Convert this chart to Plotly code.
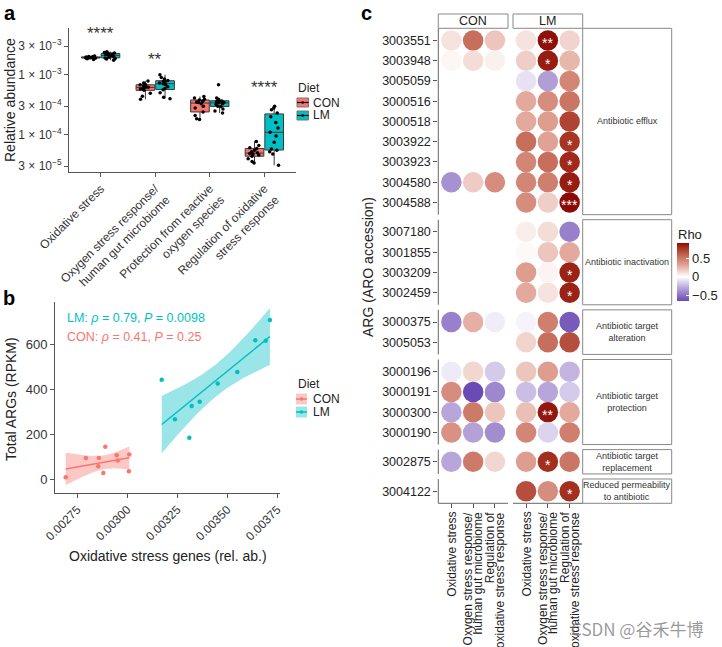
import numpy as np
import plotly.graph_objects as go

W, H = 722, 647
FONT = "Liberation Sans"
CON_COL = "#F8766D"
LM_COL = "#00BFC4"
CON_FILL = "rgba(248,118,109,0.4)"
LM_FILL = "rgba(0,191,196,0.4)"
AX_COL = "#555555"

# ---------------- Panel a data ----------------
a_categories = ["Oxidative stress",
                "Oxygen stress response/<br>human gut microbiome",
                "Protection from reactive<br>oxygen species",
                "Regulation of oxidative<br>stress response"]
a_con_oxidative = [1.80e-3, 1.84e-3, 1.88e-3, 1.90e-3, 1.91e-3, 1.93e-3, 1.94e-3, 1.95e-3, 1.96e-3, 1.98e-3, 1.99e-3, 2.02e-3, 2.05e-3]
a_lm_oxidative = [1.75e-3, 1.82e-3, 1.86e-3, 1.90e-3, 1.95e-3, 2.00e-3, 2.05e-3, 2.10e-3, 2.13e-3, 2.18e-3, 2.22e-3, 2.27e-3, 2.30e-3, 2.35e-3, 2.42e-3]
a_con_oxygen = [3.9e-4, 4.4e-4, 4.9e-4, 5.5e-4, 5.8e-4, 5.9e-4, 6.1e-4, 6.2e-4, 6.3e-4, 6.5e-4, 6.8e-4, 6.9e-4, 7.3e-4, 7.9e-4]
a_lm_oxygen = [4.0e-4, 4.2e-4, 5.0e-4, 5.6e-4, 5.9e-4, 6.3e-4, 6.8e-4, 7.1e-4, 7.3e-4, 7.6e-4, 7.8e-4, 8.0e-4, 8.5e-4, 9.0e-4, 1.0e-3]
a_con_protection = [1.8e-4, 1.85e-4, 2.1e-4, 2.4e-4, 2.8e-4, 3.0e-4, 3.3e-4, 3.45e-4, 3.5e-4, 3.6e-4, 3.8e-4, 3.9e-4, 4.1e-4, 4.35e-4]
a_lm_protection = [2.3e-4, 2.5e-4, 2.7e-4, 2.95e-4, 3.0e-4, 3.2e-4, 3.3e-4, 3.4e-4, 3.45e-4, 3.55e-4, 3.65e-4, 3.7e-4, 3.9e-4, 4.1e-4, 6.8e-4]
a_con_regulation = [3.4e-5, 3.6e-5, 4.0e-5, 4.4e-5, 4.6e-5, 4.8e-5, 4.9e-5, 5.0e-5, 5.2e-5, 5.5e-5, 5.9e-5, 6.1e-5, 6.6e-5, 7.75e-5]
a_lm_regulation = [3.1e-5, 4.8e-5, 5.2e-5, 5.5e-5, 5.8e-5, 7.5e-5, 9.5e-5, 1.1e-4, 1.3e-4, 1.6e-4, 2.0e-4, 2.3e-4, 2.6e-4, 2.8e-4, 3.0e-4]
a_sig_labels = ["****", "**", "", "****"]
a_sig_heights = [5.85e-3, 2.15e-3, None, 7.35e-4]
a_yticks = [3e-5, 1e-4, 3e-4, 1e-3, 3e-3]
a_yticktext = ["3 × 10<sup>−5</sup>", "1 × 10<sup>−4</sup>", "3 × 10<sup>−4</sup>",
               "1 × 10<sup>−3</sup>", "3 × 10<sup>−3</sup>"]

# ---------------- Panel b data ----------------
b_con_x = [0.002692, 0.002793, 0.002858, 0.002855, 0.002880, 0.002890, 0.002947, 0.002952, 0.003010, 0.003008]
b_con_y = [9, 95, 95, 58, 28, 144, 107, 83, 110, 36]
b_lm_x = [0.003172, 0.003238, 0.003310, 0.003322, 0.003362, 0.003452, 0.003550, 0.003640, 0.003692, 0.003713]
b_lm_y = [442, 267, 184, 326, 344, 425, 477, 618, 615, 708]
b_xticks = [0.00275, 0.00300, 0.00325, 0.00350, 0.00375]
b_xticktext = ["0.00275", "0.00300", "0.00325", "0.00350", "0.00375"]
b_yticks = [0, 200, 400, 600]

# ---------------- Panel c data ----------------
c_rows = ["3003551", "3003948", "3005059", "3000516", "3000518", "3003922", "3003923", "3004580", "3004588",
          "3007180", "3001855", "3003209", "3002459",
          "3000375", "3005053",
          "3000196", "3000191", "3000300", "3000190",
          "3002875",
          "3004122"]
c_group_labels = ["Antibiotic efflux", "Antibiotic inactivation", "Antibiotic target<br>alteration",
                  "Antibiotic target<br>protection", "Antibiotic target<br>replacement",
                  "Reduced permeability<br>to antibiotic"]
c_group_sizes = [9, 4, 2, 4, 1, 1]
c_cols = ["Oxidative stress", "Oxygen stress response/<br>human gut microbiome",
          "Regulation of<br>oxidative stress response"]
N = None
c_rho_con = [
    [0.10, 0.55, 0.20], [0.03, 0.12, 0.05], [N, N, N], [N, N, N], [N, N, N], [N, N, N], [N, N, N],
    [-0.38, 0.18, 0.42], [N, N, N],
    [N, N, N], [N, N, N], [N, N, N], [N, N, N],
    [-0.45, 0.28, -0.06], [N, N, N],
    [-0.07, 0.14, -0.18], [0.42, -0.66, -0.42], [-0.30, 0.50, 0.20], [0.40, -0.32, -0.40],
    [-0.30, 0.50, 0.14],
    [N, N, N],
]
c_rho_lm = [
    [0.10, 0.90, 0.15], [0.17, 0.86, 0.25], [-0.10, -0.33, 0.45], [0.30, 0.42, 0.52], [0.30, 0.35, 0.72],
    [0.55, 0.33, 0.78], [0.45, 0.55, 0.82], [0.45, 0.48, 0.86], [0.42, 0.17, 0.92],
    [0.06, 0.12, -0.45], [0.02, 0.20, 0.30], [0.35, 0.04, 0.84], [0.30, 0.10, 0.84],
    [-0.04, 0.48, -0.60], [0.15, 0.55, 0.68],
    [0.20, 0.35, -0.25], [-0.22, -0.30, -0.18], [0.22, 0.88, 0.30], [0.45, -0.15, 0.48],
    [0.35, 0.80, 0.52],
    [0.68, 0.42, 0.80],
]
c_sig_lm = [
    ["", "**", ""], ["", "*", ""], ["", "", ""], ["", "", ""], ["", "", ""],
    ["", "", "*"], ["", "", "*"], ["", "", "*"], ["", "", "***"],
    ["", "", ""], ["", "", ""], ["", "", "*"], ["", "", "*"],
    ["", "", ""], ["", "", ""],
    ["", "", ""], ["", "", ""], ["", "**", ""], ["", "", ""],
    ["", "*", ""],
    ["", "", "*"],
]

# ---------------- helpers ----------------
def fx(p):
    return p / W

def fy(p):
    return 1 - p / H

fig = go.Figure()
annotations = []
shapes = []

# ---------------- Panel a ----------------
a_con = [a_con_oxidative, a_con_oxygen, a_con_protection, a_con_regulation]
a_lm = [a_lm_oxidative, a_lm_oxygen, a_lm_protection, a_lm_regulation]
for name, groups, col in [("CON", a_con, CON_COL), ("LM", a_lm, LM_COL)]:
    xs, ys = [], []
    for cat, vals in zip(a_categories, groups):
        xs += [cat] * len(vals)
        ys += vals
    fig.add_trace(go.Box(x=xs, y=ys, name=name, fillcolor=col,
                         line=dict(color="#3a3a3a", width=1), whiskerwidth=0,
                         marker=dict(color="black", size=3.5),
                         boxpoints="all", jitter=0.7, pointpos=0,
                         xaxis="x", yaxis="y", showlegend=False))

# ---------------- Panel b ----------------
def fit_band(x, y):
    x = np.asarray(x, float)
    y = np.asarray(y, float)
    b, a = np.polyfit(x, y, 1)
    xs = np.linspace(x.min(), x.max(), 80)
    yhat = a + b * xs
    n = len(x)
    resid = y - (a + b * x)
    s = np.sqrt(np.sum(resid ** 2) / (n - 2))
    se = s * np.sqrt(1 / n + (xs - x.mean()) ** 2 / np.sum((x - x.mean()) ** 2))
    t = 2.306
    return xs, yhat, yhat - t * se, yhat + t * se

for name, bx, by, col, fill in [("CON", b_con_x, b_con_y, CON_COL, CON_FILL),
                                ("LM", b_lm_x, b_lm_y, LM_COL, LM_FILL)]:
    xs, yhat, lo, hi = fit_band(bx, by)
    fig.add_trace(go.Scatter(x=np.concatenate([xs, xs[::-1]]), y=np.concatenate([hi, lo[::-1]]),
                             fill="toself", fillcolor=fill, line=dict(width=0), mode="lines",
                             showlegend=False, hoverinfo="skip", xaxis="x2", yaxis="y2"))
    fig.add_trace(go.Scatter(x=xs, y=yhat, mode="lines", line=dict(color=col, width=1.5),
                             showlegend=False, xaxis="x2", yaxis="y2"))
    fig.add_trace(go.Scatter(x=bx, y=by, mode="markers", marker=dict(color=col, size=4.5),
                             showlegend=False, xaxis="x2", yaxis="y2"))

# ---------------- Panel c ----------------
PAD, GAP = 0.6, 0.25
row_pos = []
group_spans = []
start = 0.0
for n in c_group_sizes:
    for i in range(n):
        row_pos.append(start + PAD + i)
    end = start + 2 * PAD + (n - 1)
    group_spans.append((start, end))
    start = end + GAP
c_total = group_spans[-1][1]
col_gap = 0.23
con_x = [0, 1, 2]
lm_x = [2 + PAD + col_gap + PAD + i for i in range(3)]
c_xrange = [-PAD, lm_x[-1] + PAD]

cmin, cmax = -0.66, 0.92
stops = [(-0.66, "#6A4BB3"), (-0.3, "#B8A6DA"), (0.0, "#FFFFFF"), (0.3, "#E3A99C"),
         (0.55, "#C86E5C"), (0.8, "#A3301F"), (0.92, "#8B0A05")]
cscale = [[(v - cmin) / (cmax - cmin), c] for v, c in stops]

px_, py_, pc_ = [], [], []
for r, yv in enumerate(row_pos):
    for j in range(3):
        if c_rho_con[r][j] is not None:
            px_.append(con_x[j]); py_.append(yv); pc_.append(c_rho_con[r][j])
        if c_rho_lm[r][j] is not None:
            px_.append(lm_x[j]); py_.append(yv); pc_.append(c_rho_lm[r][j])
fig.add_trace(go.Scatter(
    x=px_, y=py_, mode="markers", xaxis="x3", yaxis="y3", showlegend=False,
    marker=dict(size=20.5, color=pc_, colorscale=cscale, cmin=cmin, cmax=cmax,
                line=dict(width=0), showscale=True,
                colorbar=dict(x=fx(677), xanchor="left", y=fy(272), yanchor="middle",
                              len=58, lenmode="pixels", thickness=12, outlinewidth=0,
                              xpad=0, ypad=0,
                              tickvals=[-0.5, 0, 0.5], ticktext=["−0.5", "0", "0.5"],
                              ticks="inside", ticklen=3, tickcolor="white",
                              tickfont=dict(size=13, color="#222")))))
annotations.append(dict(x=fx(676), y=fy(234), xref="paper", yref="paper", text="Rho",
                        showarrow=False, xanchor="left", yanchor="middle",
                        font=dict(size=13, color="#222")))

for r, yv in enumerate(row_pos):
    for j in range(3):
        s = c_sig_lm[r][j]
        if s:
            annotations.append(dict(x=lm_x[j], y=yv, xref="x3", yref="y3", text=s, showarrow=False,
                                    font=dict(size=14, color="white"), yshift=-3))

# domains (pixels)
A_X, A_Y = (69, 296), (28, 172)
B_X, B_Y = (55, 280), (301.7, 493)
C_X, C_Y = (438.3, 582.7), (28.3, 503.3)

def c_ypix(v):
    return C_Y[0] + (v / c_total) * (C_Y[1] - C_Y[0])

def c_xpix(v):
    return C_X[0] + (v - c_xrange[0]) / (c_xrange[1] - c_xrange[0]) * (C_X[1] - C_X[0])

line_style = dict(color="#666666", width=1)
strip_right = 671.7
for (s0, s1), lab in zip(group_spans, c_group_labels):
    y0, y1 = c_ypix(s0), c_ypix(s1)
    shapes.append(dict(type="line", xref="paper", yref="paper", x0=fx(C_X[0]), x1=fx(C_X[0]),
                       y0=fy(y0), y1=fy(y1), line=line_style))
    shapes.append(dict(type="rect", xref="paper", yref="paper", x0=fx(C_X[1]), x1=fx(strip_right),
                       y0=fy(y0), y1=fy(y1), line=dict(color="#888888", width=1), fillcolor="white"))
    annotations.append(dict(x=fx((C_X[1] + strip_right) / 2), y=fy((y0 + y1) / 2), xref="paper", yref="paper",
                            text=lab, showarrow=False, font=dict(size=9, color="#333"),
                            xanchor="center", yanchor="middle"))
con_edges = (c_xpix(-PAD), c_xpix(2 + PAD))
lm_edges = (c_xpix(lm_x[0] - PAD), c_xpix(lm_x[-1] + PAD))
for (e0, e1), lab in [(con_edges, "CON"), (lm_edges, "LM")]:
    shapes.append(dict(type="line", xref="paper", yref="paper", x0=fx(e0), x1=fx(e1),
                       y0=fy(C_Y[1]), y1=fy(C_Y[1]), line=line_style))
    shapes.append(dict(type="rect", xref="paper", yref="paper", x0=fx(e0), x1=fx(e1),
                       y0=fy(14), y1=fy(C_Y[0]), line=dict(color="#888888", width=1), fillcolor="white"))
    annotations.append(dict(x=fx((e0 + e1) / 2), y=fy((14 + C_Y[0]) / 2), xref="paper", yref="paper",
                            text=lab, showarrow=False, font=dict(size=12.5, color="#222"),
                            xanchor="center", yanchor="middle"))
# column labels (rotated), one annotation per text line
LINE_STEP = 10.5
for xv, lab in zip(con_x + lm_x, c_cols + c_cols):
    lines = lab.split("<br>")
    k = len(lines)
    for li, ln in enumerate(lines):
        annotations.append(dict(x=xv, y=fy(510), xref="x3", yref="paper", text=ln, textangle=-90,
                                showarrow=False, xanchor="center", yanchor="top",
                                xshift=(li - (k - 1) / 2) * LINE_STEP,
                                font=dict(size=12, color="#222")))

# significance stars panel a
for i, (lab, h) in enumerate(zip(a_sig_labels, a_sig_heights)):
    if lab:
        annotations.append(dict(x=a_categories[i], y=np.log10(h), xref="x", yref="y", text=lab,
                                showarrow=False, font=dict(size=17, color="#333"), yshift=-5))

# correlation text panel b
annotations.append(dict(x=fx(65), y=fy(318), xref="paper", yref="paper", xanchor="left", yanchor="middle",
                        text="LM: <i>ρ</i> = 0.79, <i>P</i> = 0.0098", showarrow=False,
                        font=dict(size=12.5, color=LM_COL)))
annotations.append(dict(x=fx(65), y=fy(337), xref="paper", yref="paper", xanchor="left", yanchor="middle",
                        text="CON: <i>ρ</i> = 0.41, <i>P</i> = 0.25", showarrow=False,
                        font=dict(size=12.5, color=CON_COL)))

# ---------------- legends (drawn as keys) ----------------
LEG_FONT = dict(size=12, color="#222")
annotations.append(dict(x=fx(296), y=fy(88), xref="paper", yref="paper", text="Diet", showarrow=False,
                        xanchor="left", yanchor="middle", font=LEG_FONT))
for cy, lab, col in [(102.5, "CON", CON_COL), (115.5, "LM", LM_COL)]:
    shapes.append(dict(type="rect", xref="paper", yref="paper", x0=fx(297), x1=fx(308.5),
                       y0=fy(cy - 4.5), y1=fy(cy + 4.5), fillcolor=col, line=dict(color="#777", width=1)))
    shapes.append(dict(type="line", xref="paper", yref="paper", x0=fx(297), x1=fx(308.5),
                       y0=fy(cy), y1=fy(cy), line=dict(color="black", width=1.2)))
    shapes.append(dict(type="circle", xref="paper", yref="paper", x0=fx(301.5), x1=fx(304),
                       y0=fy(cy - 1.25), y1=fy(cy + 1.25), fillcolor="black", line=dict(width=0)))
    annotations.append(dict(x=fx(311), y=fy(cy), xref="paper", yref="paper", text=lab, showarrow=False,
                            xanchor="left", yanchor="middle", font=LEG_FONT))
annotations.append(dict(x=fx(296), y=fy(384), xref="paper", yref="paper", text="Diet", showarrow=False,
                        xanchor="left", yanchor="middle", font=LEG_FONT))
for cy, lab, col, fill in [(399, "CON", CON_COL, CON_FILL), (412, "LM", LM_COL, LM_FILL)]:
    shapes.append(dict(type="rect", xref="paper", yref="paper", x0=fx(296), x1=fx(307),
                       y0=fy(cy - 5.5), y1=fy(cy + 5.5), fillcolor=fill, line=dict(width=0)))
    shapes.append(dict(type="line", xref="paper", yref="paper", x0=fx(296), x1=fx(307),
                       y0=fy(cy), y1=fy(cy), line=dict(color=col, width=1.5)))
    shapes.append(dict(type="circle", xref="paper", yref="paper", x0=fx(299.8), x1=fx(303.2),
                       y0=fy(cy - 1.7), y1=fy(cy + 1.7), fillcolor=col, line=dict(width=0)))
    annotations.append(dict(x=fx(311), y=fy(cy), xref="paper", yref="paper", text=lab, showarrow=False,
                            xanchor="left", yanchor="middle", font=LEG_FONT))

# axis titles
for txt, x, y, ang in [("Relative abundance", 10, 100, -90),
                       ("Total ARGs (RPKM)", 11, 399, -90),
                       ("ARG (ARO accession)", 368, 267, -90),
                       ("Oxidative stress genes (rel. ab.)", 168, 556, 0)]:
    annotations.append(dict(x=fx(x), y=fy(y), xref="paper", yref="paper", text=txt, textangle=ang,
                            showarrow=False, font=dict(size=14, color="#222"),
                            xanchor="center", yanchor="middle"))
# panel letters
for txt, x, y in [("a", 10, 13), ("b", 9, 298), ("c", 366, 13)]:
    annotations.append(dict(x=fx(x), y=fy(y), xref="paper", yref="paper", text="<b>%s</b>" % txt,
                            showarrow=False, font=dict(size=20, color="black"),
                            xanchor="center", yanchor="middle"))
# watermark
annotations.append(dict(x=fx(637), y=fy(628), xref="paper", yref="paper", text="CSDN @谷禾牛博",
                        showarrow=False, font=dict(size=17, color="rgba(120,120,120,0.75)",
                                                   family="Noto Sans CJK SC"),
                        xanchor="center", yanchor="middle"))

axis_common = dict(showgrid=False, zeroline=False, ticks="outside", ticklen=4, tickcolor=AX_COL,
                   linecolor=AX_COL, linewidth=1, tickfont=dict(size=12, color="#333"),
                   automargin=False)

fig.update_layout(
    width=W, height=H, margin=dict(l=0, r=0, t=0, b=0, pad=0, autoexpand=False),
    paper_bgcolor="white", plot_bgcolor="white",
    font=dict(family=FONT, color="#222"),
    showlegend=False,
    boxmode="group", boxgap=0.28, boxgroupgap=0.05,
    xaxis=dict(domain=[fx(A_X[0]), fx(A_X[1])], anchor="y", type="category",
               categoryorder="array", categoryarray=a_categories,
               range=[-0.58, 3.58], tickangle=-45, showline=True, **axis_common),
    yaxis=dict(domain=[fy(A_Y[1]), fy(A_Y[0])], anchor="x", type="log",
               range=[np.log10(2.4e-5), np.log10(6e-3)], tickvals=a_yticks, ticktext=a_yticktext,
               showline=True, **{**axis_common, "tickfont": dict(size=12, color="#333")}),
    xaxis2=dict(domain=[fx(B_X[0]), fx(B_X[1])], anchor="y2", range=[0.0026385, 0.0037635],
                tickvals=b_xticks, ticktext=b_xticktext, tickangle=-45, showline=True, **axis_common),
    yaxis2=dict(domain=[fy(B_Y[1]), fy(B_Y[0])], anchor="x2", range=[-61, 789],
                tickvals=b_yticks, showline=True, **{**axis_common, "tickfont": dict(size=13, color="#333")}),
    xaxis3=dict(domain=[fx(C_X[0]), fx(C_X[1])], anchor="y3", range=c_xrange,
                tickvals=con_x + lm_x, showticklabels=False, showline=False, **axis_common),
    yaxis3=dict(domain=[fy(C_Y[1]), fy(C_Y[0])], anchor="x3", range=[c_total, 0],
                tickvals=row_pos, ticktext=c_rows, showline=False,
                **{**axis_common, "tickfont": dict(size=12.5, color="#222")}),
    shapes=shapes, annotations=annotations,
)

fig.write_html("out.html", config={"displayModeBar": False},
               post_script="document.body.style.margin='0';document.body.style.padding='0';")
